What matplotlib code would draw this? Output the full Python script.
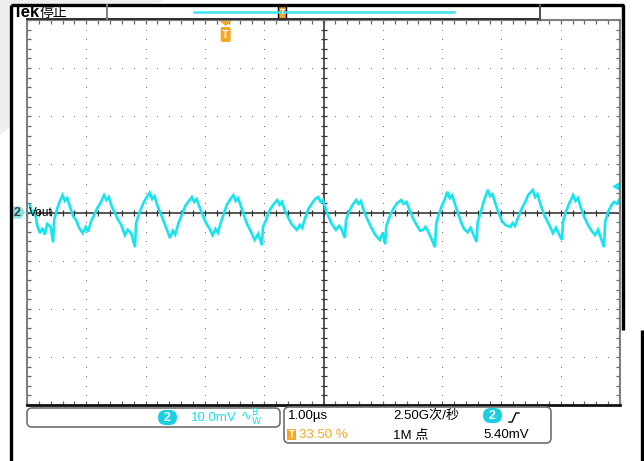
import numpy as np
import matplotlib
matplotlib.use("Agg")
from matplotlib import pyplot as plt
from matplotlib import font_manager
from matplotlib.patches import Polygon, Rectangle, FancyBboxPatch

t_us = [0.05, 0.09, 0.13, 0.17, 0.22, 0.26, 0.30, 0.34, 0.40, 0.44, 0.46, 0.51, 0.55, 0.60,
        0.64, 0.68, 0.73, 0.78, 0.83, 0.88, 0.94, 0.99, 1.03, 1.08, 1.13, 1.18, 1.24, 1.30,
        1.34, 1.38, 1.43, 1.48, 1.53, 1.59, 1.65, 1.70, 1.76, 1.82, 1.84, 1.88, 1.93, 1.98,
        2.07, 2.11, 2.15, 2.20, 2.26, 2.31, 2.36, 2.41, 2.46, 2.50, 2.56, 2.62, 2.67, 2.72,
        2.78, 2.82, 2.86, 2.92, 2.97, 3.02, 3.08, 3.13, 3.18, 3.22, 3.27, 3.32, 3.37, 3.42,
        3.48, 3.52, 3.56, 3.61, 3.66, 3.71, 3.77, 3.84, 3.90, 3.96, 3.98, 4.03, 4.08, 4.14,
        4.22, 4.26, 4.30, 4.35, 4.41, 4.46, 4.55, 4.60, 4.64, 4.69, 4.74, 4.80, 4.86, 4.91,
        4.95, 4.99, 5.04, 5.09, 5.14, 5.21, 5.26, 5.30, 5.36, 5.38, 5.43, 5.49, 5.55, 5.59,
        5.63, 5.68, 5.74, 5.80, 5.87, 5.95, 6.00, 6.04, 6.06, 6.11, 6.17, 6.23, 6.31, 6.35,
        6.40, 6.45, 6.51, 6.57, 6.63, 6.68, 6.72, 6.76, 6.88, 6.90, 6.94, 6.99, 7.04, 7.09,
        7.13, 7.17, 7.22, 7.27, 7.32, 7.37, 7.43, 7.48, 7.58, 7.60, 7.65, 7.70, 7.77, 7.81,
        7.85, 7.90, 7.95, 8.01, 8.07, 8.15, 8.19, 8.23, 8.29, 8.35, 8.41, 8.45, 8.53, 8.57,
        8.61, 8.66, 8.72, 8.78, 8.83, 8.87, 8.92, 9.02, 9.04, 9.09, 9.14, 9.21, 9.25, 9.29,
        9.34, 9.40, 9.46, 9.52, 9.58, 9.63, 9.73, 9.75, 9.80, 9.86, 9.90, 9.95, 10.0]
v_mv = [1.5, -0.3, 0.6, -2.6, -4.3, -3.2, -4.6, -2.4, -3.0, -6.2, -1.4, 0.8, 2.2, 3.6,
        2.4, 3.0, 1.0, -0.8, -1.6, -3.2, -4.3, -3.0, -4.0, -1.8, -0.6, 0.8, 2.0, 3.6,
        2.6, 3.2, 1.2, 0.0, -1.4, -2.6, -4.7, -3.6, -4.4, -7.2, -2.2, -0.6, 1.0, 2.4,
        4.1, 2.8, 3.4, 1.4, -0.4, -2.0, -3.6, -5.3, -3.8, -4.6, -2.0, -0.2, 1.4, 2.2,
        3.2, 2.2, 2.8, 0.8, -0.8, -2.2, -3.4, -4.7, -3.4, -4.2, -2.0, -0.2, 1.6, 2.6,
        3.6, 2.4, 3.0, 1.2, -0.6, -2.4, -3.8, -5.7, -4.4, -6.8, -3.0, -1.6, 0.2, 1.4,
        2.6, 1.6, 2.2, 0.4, -1.2, -2.4, -3.6, -2.6, -3.2, -1.2, 0.6, 1.8, 2.8, 3.2,
        2.2, 2.6, 0.6, -1.0, -2.4, -3.6, -2.8, -3.4, -5.3, -1.6, 0.2, 1.6, 2.6, 1.8,
        2.4, 0.4, -1.4, -3.0, -4.6, -5.7, -4.2, -6.6, -2.8, -1.0, 0.6, 1.8, 2.6, 1.8,
        2.2, 0.6, -1.2, -2.6, -3.8, -3.6, -3.0, -3.8, -7.2, -2.4, -0.6, 1.2, 2.6, 4.3,
        3.0, 3.6, 1.6, -0.2, -2.0, -3.4, -4.1, -3.2, -6.1, -2.0, 0.0, 2.2, 4.7, 3.4,
        3.8, 1.8, 0.0, -1.8, -2.6, -3.0, -2.2, -2.8, -0.8, 1.0, 2.4, 3.6, 4.7, 3.2,
        3.8, 1.6, -0.4, -2.0, -3.2, -4.3, -3.2, -5.7, -1.8, 0.2, 1.8, 3.6, 2.4, 3.0,
        1.0, -1.0, -2.6, -3.8, -4.7, -3.6, -7.2, -2.0, 0.2, 1.6, 2.2, 1.8, 3.0]

trig_nivel = 5.40      # mV
trig_pos = 33.5        # %
escala_v = "10.0mV"
escala_h = "1.00µs"
amostragem = "2.50G次/秒"
pontos = "1M 点"
canal = "2"

CIANO = '#16e4ee'
LARANJA = '#f5a623'

nomes = {f.name for f in font_manager.fontManager.ttflist}
fam = [n for n in ['Liberation Sans Narrow', 'Liberation Sans'] if n in nomes] + ['Noto Sans CJK SC', 'DejaVu Sans']
plt.rcParams['font.family'] = fam

W, H = 644, 461
fig = plt.figure(figsize=(W / 100, H / 100), dpi=100)

## fundo
bg = fig.add_axes([0, 0, 1, 1])
bg.set_xlim(0, W)
bg.set_ylim(H, 0)
bg.axis('off')
bg.set_zorder(0)
bg.add_patch(Polygon([(0, 0), (163, 0), (0, 135)], color='#efefef', lw=0))
bg.add_patch(Rectangle((11, 5), 613, 456, color='white', lw=0))

## graticula + traço
x0, x1, y0, y1 = 27, 620, 20, 405
ax = fig.add_axes([x0 / W, 1 - y1 / H, (x1 - x0) / W, (y1 - y0) / H])
ax.set_zorder(1)
ax.patch.set_alpha(0)
ax.set_xlim(0, 10)
ax.set_ylim(-40, 40)

minor_x = np.arange(0, 10.001, 0.2)
minor_y = np.arange(-40, 40.001, 2)
for gx in range(1, 10):
    if gx != 5:
        ax.plot(np.full_like(minor_y, gx), minor_y, ls='none', marker='s', ms=0.6, mew=0, color='#666666')
for gy in (-30, -20, -10, 10, 20, 30):
    ax.plot(minor_x, np.full_like(minor_x, gy), ls='none', marker='s', ms=0.6, mew=0, color='#666666')

ax.axvline(5, color='#4a4a4a', lw=1.3)
ax.axhline(0, color='#4a4a4a', lw=1.3)
ax.plot(minor_x, np.zeros_like(minor_x), ls='none', marker='|', ms=4.5, mew=0.9, color='#333333')
ax.plot(np.full_like(minor_y, 5), minor_y, ls='none', marker='_', ms=4.5, mew=0.9, color='#333333')

ax.plot(t_us, v_mv, color=CIANO, lw=1.9, solid_joinstyle='miter')

ax.set_xticks(np.arange(0, 11, 1))
ax.set_yticks(np.arange(-40, 41, 10))
ax.set_xticks(minor_x, minor=True)
ax.set_yticks(minor_y, minor=True)
ax.tick_params(which='both', direction='in', length=3, width=0.9, color='#666666',
               top=True, right=True, labelbottom=False, labelleft=False)
for s in ax.spines.values():
    s.set_color('#808080')
    s.set_linewidth(1.5)
ax.spines['bottom'].set_color('#111111')
ax.spines['bottom'].set_linewidth(2)

## sobreposição: molduras e textos
ov = fig.add_axes([0, 0, 1, 1])
ov.set_zorder(2)
ov.patch.set_alpha(0)
ov.set_xlim(0, W)
ov.set_ylim(H, 0)
ov.axis('off')

k = dict(color='black', lw=2.4, solid_capstyle='butt')
ov.plot([11, 624], [5, 5], **k)
ov.plot([11, 11], [5, H], **k)
ov.plot([623, 623], [5, 330], **k)
ov.plot([642, 642], [330, H], **k)

ov.plot([27, 540], [19.5, 19.5], color='#303030', lw=1.4)
ov.plot([107, 107], [5, 20], color='#808080', lw=1.4)
ov.plot([540, 540], [5, 20], color='#505050', lw=1.4)
ov.plot([194, 454], [12, 12], color='#40e2ee', lw=1.8)
ov.add_patch(Rectangle((278, 6), 8, 13, facecolor=LARANJA, edgecolor='black', lw=1))
ov.text(282, 13, 'T', color='white', fontsize=6, ha='center', va='center', fontweight='bold')

ov.text(13, 12.5, 'Tek', fontsize=12, fontweight='bold', va='center', ha='left',
        family=['Liberation Sans', 'DejaVu Sans'])
ov.text(40, 12.5, '停止', fontsize=10, va='center', ha='left',
        family=['Noto Sans CJK SC', 'DejaVu Sans'])

# marcador de disparo
tx = x0 + trig_pos / 100 * (x1 - x0)
ov.add_patch(Polygon([(tx - 6, 21), (tx + 6, 21), (tx, 26)], color=LARANJA, lw=0))
ov.add_patch(FancyBboxPatch((tx - 5, 27), 10, 15, boxstyle='round,pad=0,rounding_size=2',
                            color=LARANJA, lw=0))
ov.text(tx, 34.5, 'T', color='white', fontsize=8, fontweight='bold', ha='center', va='center')

# nível de disparo (seta à direita)
yn = (y0 + y1) / 2 - trig_nivel / 10 * (y1 - y0) / 8
ov.add_patch(Polygon([(612, yn), (619, yn - 4), (619, yn + 4)], color=CIANO, lw=0))

# marcador do canal
yc = (y0 + y1) / 2
ov.add_patch(Polygon([(12, yc - 6), (21, yc - 6), (25, yc), (21, yc + 6), (12, yc + 6)],
                     color='#86e6e6', lw=0))
ov.text(17.5, yc, canal, fontsize=9, color='#444444', ha='center', va='center', fontweight='bold')
ov.text(29, yc, 'Vout', fontsize=8.5, color='black', ha='left', va='center')

# caixas inferiores
ov.add_patch(FancyBboxPatch((27, 408), 253, 19, boxstyle='round,pad=0,rounding_size=5',
                            facecolor='white', edgecolor='#707070', lw=1.2))
ov.add_patch(FancyBboxPatch((284, 407), 267, 36, boxstyle='round,pad=0,rounding_size=5',
                            facecolor='white', edgecolor='#707070', lw=1.2))

def badge(x, y):
    ov.add_patch(FancyBboxPatch((x, y), 19, 15, boxstyle='round,pad=0,rounding_size=7.5',
                                color='#1ccfe0', lw=0))
    ov.text(x + 9.5, y + 7.8, canal, color='white', fontsize=9, fontweight='bold',
            ha='center', va='center')

badge(158, 410)
ov.text(191, 418, escala_v, color=CIANO, fontsize=9.5, ha='left', va='center')
# símbolo de limite de banda (BW)
ov.text(240, 418, r'∿$^{\mathrm{B}}_{\mathrm{W}}$', color=CIANO, fontsize=9.5,
        ha='left', va='center', family=['DejaVu Sans'])

ov.text(288, 416, escala_h, color='black', fontsize=9.5, ha='left', va='center')
ov.add_patch(Rectangle((287, 429), 9, 11, color=LARANJA, lw=0))
ov.text(291.5, 434.8, 'T', color='white', fontsize=7, fontweight='bold', ha='center', va='center')
ov.text(299, 435, f'{trig_pos:.2f} %', color=LARANJA, fontsize=9.5, ha='left', va='center')
ov.text(393, 416, amostragem, color='black', fontsize=9.5, ha='left', va='center')
ov.text(393, 435, pontos, color='black', fontsize=9.5, ha='left', va='center')
badge(483, 408)
ov.plot([509, 512, 516, 519], [422, 422, 413, 413], color='black', lw=1)
ov.text(483, 435, f'{trig_nivel:.2f}mV', color='black', fontsize=9.5, ha='left', va='center')

fig.savefig('out.png', dpi=100)
